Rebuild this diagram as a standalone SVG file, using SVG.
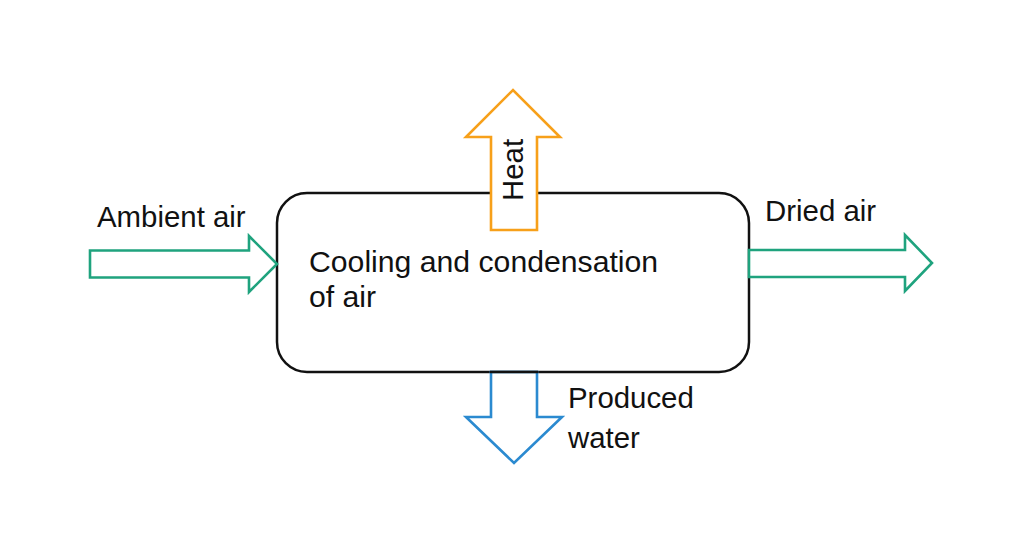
<svg xmlns="http://www.w3.org/2000/svg" width="1024" height="555" viewBox="0 0 1024 555">
<style>
.lbl{font-family:"Liberation Sans",Arial,sans-serif;font-size:29.4px;fill:#111}
.main{font-family:"Liberation Sans",Arial,sans-serif;font-size:30.2px;fill:#111}
.box{fill:#fff;stroke:#111;stroke-width:2.5}
.arr{fill:#fff;stroke-width:2.6;stroke-linejoin:miter}
.green{stroke:#1fa37e}
.orange{stroke:#f7a01a}
.blue{stroke:#2b8ad0}
</style>
<rect width="1024" height="555" fill="#fff"/>
<g id="process">
<rect class="box" x="277" y="193" width="472" height="179" rx="30" ry="30"/>
<text class="main" x="309" y="272">Cooling and condensation</text>
<text class="main" x="309" y="307">of air</text>
</g>
<g id="connectors">
<g id="ambient-air">
<polygon class="arr green" points="90,250.5 249,250.5 249,236 277,264 249,292 249,277.5 90,277.5"/>
<text class="lbl" x="97" y="227">Ambient air</text>
</g>
<g id="dried-air">
<polygon class="arr green" points="749,250 905,250 905,235 932,263 905,291 905,277 749,277"/>
<text class="lbl" x="765" y="221">Dried air</text>
</g>
<g id="heat">
<polygon class="arr orange" points="491,230 491,137 466,137 513,90 560,137 537,137 537,230"/>
<text class="lbl" transform="translate(523,201) rotate(-90)">Heat</text>
</g>
<g id="produced-water">
<polygon class="arr blue" points="491,372 491,417 466,417 514,463 562,417 537,417 537,372" />
<line x1="490" y1="372" x2="538" y2="372" stroke="#111" stroke-width="2.5"/>
<text class="lbl" x="568" y="408">Produced</text>
<text class="lbl" x="568" y="448">water</text>
</g>
</g>
</svg>
